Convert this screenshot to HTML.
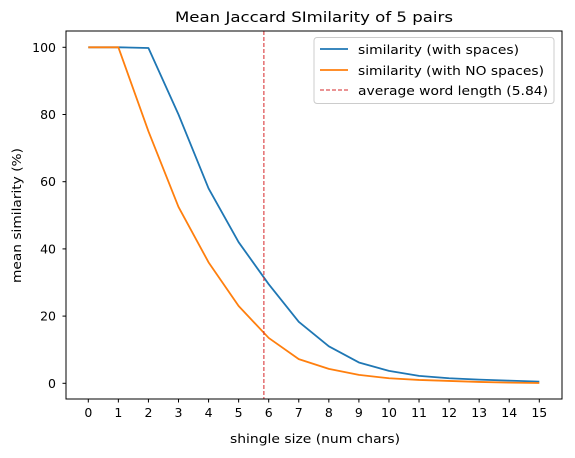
<!DOCTYPE html>
<html><head><meta charset="utf-8"><style>
body{margin:0;background:#fff;font-family:"Liberation Sans","DejaVu Sans",sans-serif;}
svg text{font-family:"DejaVu Sans","Liberation Sans",sans-serif;fill:#000;}
</style></head><body>
<svg id="chart" width="575" height="453" xmlns="http://www.w3.org/2000/svg">
<rect width="575" height="453" fill="#fff"/>
<text x="314" y="22" font-size="14" text-anchor="middle" textLength="278" lengthAdjust="spacingAndGlyphs">Mean Jaccard SImilarity of 5 pairs</text>
<g id="plot"></g>
<rect x="66" y="31" width="496" height="368" fill="none" stroke="#000" stroke-width="1"/>
<text x="315" y="443" font-size="12.5" text-anchor="middle" textLength="170" lengthAdjust="spacingAndGlyphs">shingle size (num chars)</text>
<text transform="translate(21,215.5) rotate(-90)" font-size="12.5" text-anchor="middle" textLength="135" lengthAdjust="spacingAndGlyphs">mean similarity (%)</text>
<g>
<rect x="314" y="37.5" width="240" height="66" rx="3" fill="#fff" stroke="#ccc"/>
<line x1="320" y1="49" x2="348" y2="49" stroke="#1f77b4" stroke-width="1.8"/>
<text x="358" y="54" font-size="12.5" textLength="161" lengthAdjust="spacingAndGlyphs">similarity (with spaces)</text>
<line x1="320" y1="70" x2="348" y2="70" stroke="#ff7f0e" stroke-width="1.8"/>
<text x="358" y="75" font-size="12.5" textLength="186" lengthAdjust="spacingAndGlyphs">similarity (with NO spaces)</text>
<line x1="320" y1="90" x2="348" y2="90" stroke="#d62728" stroke-width="1" stroke-dasharray="4,2"/>
<text x="358" y="95" font-size="12.5" textLength="190" lengthAdjust="spacingAndGlyphs">average word length (5.84)</text>
</g>
</svg>
<script>
const shingleSizes=[0,1,2,3,4,5,6,7,8,9,10,11,12,13,14,15];
const withSpaces=[100,100,99.8,80,58,42,29.5,18.3,11,6.2,3.7,2.2,1.5,1.1,0.8,0.5];
const noSpaces=[100,100,75,52.5,36,23,13.5,7.2,4.3,2.5,1.5,1.0,0.7,0.4,0.2,0.1];
const avgWordLength=5.84;
const xTicks=[0,1,2,3,4,5,6,7,8,9,10,11,12,13,14,15];
const yTicks=[0,20,40,60,80,100];

const NS="http://www.w3.org/2000/svg";
const g=document.getElementById('plot');
const xs=v=>88.3+v*(539.3-88.3)/15;
const ys=v=>383.3-v*(383.3-47.3)/100;
function mk(tag,attrs){const e=document.createElementNS(NS,tag);for(const k in attrs)e.setAttribute(k,attrs[k]);g.appendChild(e);return e;}
xTicks.forEach(t=>{
  const l=mk('line',{x1:xs(t),x2:xs(t),y1:399,y2:402.5,stroke:'#000'});
  
  
  const tx=mk('text',{x:xs(t),y:417,'font-size':'12.5','text-anchor':'middle'});tx.textContent=t;
  
  
});
yTicks.forEach(t=>{
  const l=mk('line',{x1:62.5,x2:66,y1:ys(t),y2:ys(t),stroke:'#000'});
  
  
  const tx=mk('text',{x:56,y:ys(t)+4.5,'font-size':'12.5','text-anchor':'end'});tx.textContent=t;
  
  
});
function series(vals,color,name){
  const p=mk('polyline',{points:vals.map((v,i)=>xs(shingleSizes[i])+','+ys(v)).join(' '),fill:'none',stroke:color,'stroke-width':'1.8','stroke-linejoin':'round'});
  
  
}
series(withSpaces,'#1f77b4','line-with-spaces');
series(noSpaces,'#ff7f0e','line-no-spaces');
const vl=mk('line',{x1:xs(avgWordLength),x2:xs(avgWordLength),y1:31,y2:399,stroke:'#d62728','stroke-width':'1','stroke-dasharray':'4,2'});


</script>
</body></html>
